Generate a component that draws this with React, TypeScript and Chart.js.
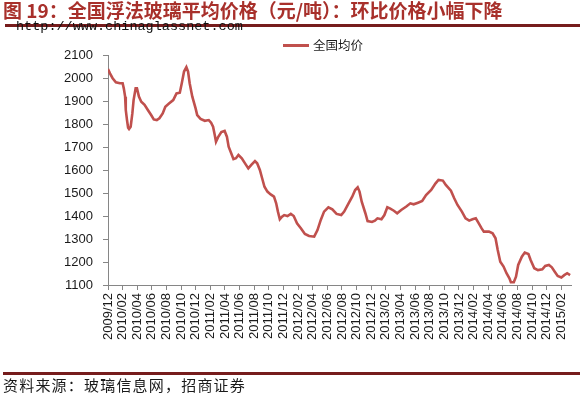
import React, { useEffect, useRef } from "react";
import { Chart, registerables } from "chart.js";

Chart.register(...registerables);

// Title / texts
const titleText = "图 19：全国浮法玻璃平均价格（元/吨）：环比价格小幅下降";
const watermarkText = "http://www.chinaglassnet.com";
const sourceText = "资料来源：玻璃信息网，招商证券";
const seriesName = "全国均价";

// X positions are months elapsed since 2009/12 (0 = 2009/12/01)
const monthOffsets = [
  0, 0.27, 0.63, 1.08, 1.62, 2.0, 2.16, 2.34, 2.43, 2.6, 2.75, 2.88, 3.1, 3.33, 3.5, 3.78, 3.96,
  4.23, 4.55, 5.0, 5.45, 5.9, 6.26, 6.67, 7.03, 7.48, 7.84, 8.38, 8.92, 9.37, 9.82, 10.09, 10.4,
  10.72, 10.95, 11.17, 11.53, 11.98, 12.2, 12.66, 13.24, 13.78, 14.1, 14.37, 14.6, 14.77, 15.04,
  15.5, 15.95, 16.26, 16.5, 16.85, 17.16, 17.5, 17.84, 18.3, 18.74, 19.19, 19.6, 20.1, 20.4, 20.77,
  21.08, 21.4, 21.8, 22.25, 22.7, 23.0, 23.24, 23.5, 23.8, 24.1, 24.55, 25.0, 25.4, 25.85, 26.4,
  26.93, 27.5, 28.2, 28.65, 29.1, 29.55, 30.14, 30.68, 31.26, 31.9, 32.3, 32.9, 33.4, 33.8, 34.15,
  34.4, 34.7, 35.2, 35.5, 36.1, 36.5, 36.85, 37.4, 37.8, 38.2, 38.55, 39.1, 39.55, 40.1, 40.8,
  41.35, 41.8, 42.4, 42.97, 43.5, 44.2, 44.8, 45.2, 45.8, 46.2, 46.9, 47.35, 47.8, 48.4, 48.9,
  49.4, 49.85, 50.3, 50.65, 51.1, 51.4, 52.1, 52.6, 53.0, 53.3, 53.65, 54.1, 54.5, 54.9, 55.1,
  55.5, 55.8, 56.1, 56.6, 57.0, 57.5, 57.8, 58.3, 58.8, 59.4, 59.8, 60.3, 60.7, 61.1, 61.5, 62.0,
  62.4, 62.8, 63.2,
];

const priceValues = [
  2039, 2020, 1999, 1981, 1977, 1977, 1955, 1919, 1861, 1817, 1784, 1778, 1788, 1846, 1904, 1955, 1955,
  1919, 1897, 1883, 1861, 1839, 1820, 1817, 1825, 1846, 1875, 1890, 1904, 1933, 1936, 1977, 2028,
  2047, 2028, 1977, 1919, 1868, 1839, 1822, 1814, 1817, 1806, 1788, 1752, 1723, 1742,
  1765, 1770, 1745, 1701, 1673, 1647, 1651, 1665, 1651, 1629, 1607, 1622, 1639, 1629, 1600,
  1564, 1527, 1506, 1494, 1484, 1455, 1419, 1386, 1397, 1404, 1400, 1409, 1400, 1368, 1346,
  1322, 1313, 1310, 1339, 1383, 1419, 1438, 1429, 1409, 1404, 1419, 1455, 1484, 1513, 1525,
  1506, 1462, 1412, 1378, 1374, 1380, 1390, 1386, 1404, 1438, 1433, 1423, 1412, 1426, 1441,
  1455, 1451, 1458, 1465, 1491, 1513, 1542, 1557, 1554, 1535, 1510, 1477, 1448, 1419, 1390,
  1380, 1386, 1390, 1371, 1346, 1332, 1332, 1325, 1303, 1252, 1201, 1180, 1151, 1129, 1112,
  1112, 1136, 1187, 1223, 1241, 1235, 1209, 1173, 1165, 1168, 1183, 1187, 1177, 1158, 1139, 1133,
  1143, 1151, 1143,
];

const startYear = 2009;
const startMonth = 12;
const xTickStepMonths = 2;
const xAxisEndMonths = 63.4;
const yMin = 1100;
const yMax = 2100;
const yStep = 100;

const lineColor = "#C0504D";
const axisColor = "#868686";
const titleColor = "#A8302B";
const ruleColor = "#761C1C";

function monthLabel(offset: number): string {
  const total = startMonth - 1 + Math.round(offset);
  const y = startYear + Math.floor(total / 12);
  const m = (total % 12) + 1;
  return `${y}/${m < 10 ? "0" + m : m}`;
}

function PriceChart() {
  const ref = useRef<HTMLCanvasElement | null>(null);
  useEffect(() => {
    if (!ref.current) return;
    const points = monthOffsets.map((x, i) => ({ x, y: priceValues[i] }));
    const tickFont = { family: "'Liberation Sans', Arial, sans-serif", size: 13 };
    const chart = new Chart(ref.current, {
      type: "line",
      data: {
        datasets: [
          {
            label: seriesName,
            data: points,
            borderColor: lineColor,
            backgroundColor: lineColor,
            borderWidth: 2.6,
            pointRadius: 0,
            tension: 0,
          },
        ],
      },
      options: {
        animation: false,
        responsive: false,
        maintainAspectRatio: false,
        layout: { padding: { left: 0, top: 55, right: 3, bottom: 0 } },
        plugins: { legend: { display: false }, tooltip: { enabled: false }, title: { display: false } },
        scales: {
          x: {
            type: "linear",
            min: 0,
            max: xAxisEndMonths,
            afterFit: (s: any) => {
              s.height = 112;
            },
            grid: { display: true, drawOnChartArea: false, drawTicks: true, tickLength: 5, color: axisColor },
            border: { display: true, color: axisColor, width: 1 },
            ticks: {
              stepSize: xTickStepMonths,
              includeBounds: false,
              autoSkip: false,
              minRotation: 90,
              maxRotation: 90,
              padding: 3,
              color: "#1a1a1a",
              font: tickFont,
              callback: (v: any) => monthLabel(Number(v)),
            },
          },
          y: {
            type: "linear",
            min: yMin,
            max: yMax,
            afterFit: (s: any) => {
              s.width = 108;
            },
            grid: { display: true, drawOnChartArea: false, drawTicks: true, tickLength: 5, color: axisColor },
            border: { display: true, color: axisColor, width: 1 },
            ticks: {
              stepSize: yStep,
              padding: 10,
              color: "#1a1a1a",
              font: tickFont,
              callback: (v: any) => String(v),
            },
          },
        },
      },
    });
    return () => chart.destroy();
  }, []);
  return <canvas ref={ref} width={580} height={397} style={{ position: "absolute", left: 0, top: 0 }} />;
}

export default function App() {
  return (
    <div style={{ position: "relative", width: 580, height: 397, background: "#fff", overflow: "hidden" }}>
      <style>{"body{margin:0;}"}</style>
      <PriceChart />
      <div
        style={{
          position: "absolute",
          left: 3,
          top: -1,
          fontFamily: "'Noto Sans CJK SC', sans-serif",
          fontWeight: 700,
          fontSize: 19,
          color: titleColor,
          whiteSpace: "nowrap",
          lineHeight: "22px",
        }}
      >
        {titleText}
      </div>
      <div style={{ position: "absolute", left: 5, right: 0, top: 24, height: 2.5, background: ruleColor }} />
      <div
        style={{
          position: "absolute",
          left: 16,
          top: 19,
          fontFamily: "'Liberation Mono', 'DejaVu Sans Mono', monospace",
          fontSize: 13.5,
          color: "#111",
          whiteSpace: "nowrap",
          lineHeight: "16px",
        }}
      >
        {watermarkText}
      </div>
      <div style={{ position: "absolute", left: 283, top: 44, width: 26, height: 3, background: lineColor }} />
      <div
        style={{
          position: "absolute",
          left: 313,
          top: 37,
          fontFamily: "'Noto Sans CJK SC', sans-serif",
          fontSize: 12.5,
          color: "#1a1a1a",
          whiteSpace: "nowrap",
          lineHeight: "16px",
        }}
      >
        {seriesName}
      </div>
      <div style={{ position: "absolute", left: 3, right: 0, top: 372, height: 2.5, background: ruleColor }} />
      <div
        style={{
          position: "absolute",
          left: 3,
          top: 376,
          fontFamily: "'Noto Sans CJK SC', sans-serif",
          fontSize: 15,
          letterSpacing: 1.2,
          color: "#1a1a1a",
          whiteSpace: "nowrap",
          lineHeight: "18px",
        }}
      >
        {sourceText}
      </div>
    </div>
  );
}
